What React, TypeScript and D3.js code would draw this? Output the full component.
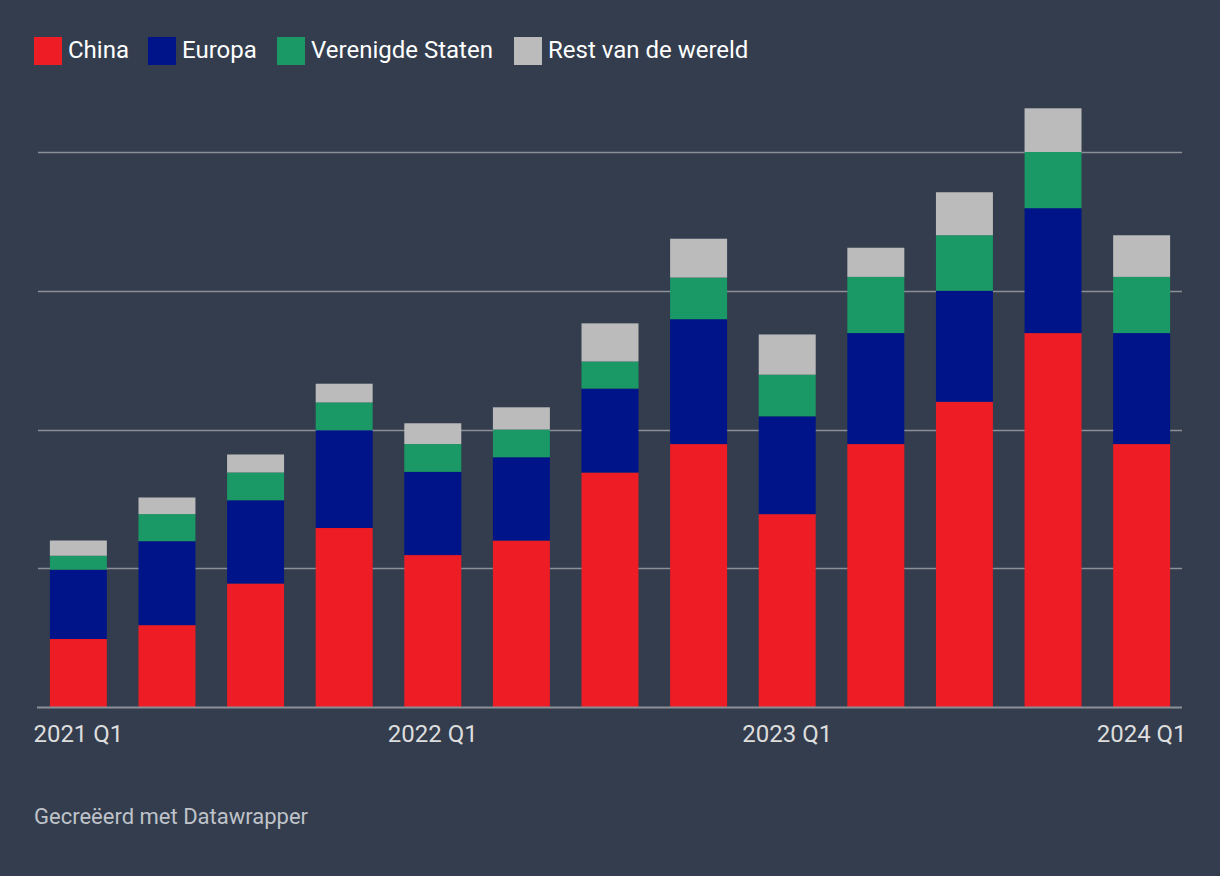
import React from "react";
import * as d3 from "d3";

const periods = ["2021 Q1","2021 Q2","2021 Q3","2021 Q4","2022 Q1","2022 Q2","2022 Q3","2022 Q4","2023 Q1","2023 Q2","2023 Q3","2023 Q4","2024 Q1"];
const tickLabels = ["2021 Q1","2022 Q1","2023 Q1","2024 Q1"];
const seriesNames = ["China","Europa","Verenigde Staten","Rest van de wereld"];
const china = [4.9, 5.9, 8.9, 12.9, 10.95, 12.0, 16.9, 18.95, 13.9, 18.95, 22.0, 26.95, 18.95];
const europa = [5.0, 6.05, 6.0, 7.05, 6.0, 6.0, 6.05, 9.0, 7.05, 8.0, 8.0, 9.0, 8.0];
const vs = [1.0, 1.95, 2.0, 2.0, 2.0, 2.0, 1.95, 3.0, 3.0, 4.05, 4.0, 4.05, 4.05];
const rest = [1.1, 1.2, 1.3, 1.35, 1.5, 1.6, 2.75, 2.8, 2.9, 2.1, 3.1, 3.15, 3.0];
const gridValues = [10, 20, 30, 40];
const colors = ["#ee1c25", "#00148a", "#1a9966", "#bbbbbb"];

const W = 1220, H = 876;
const FONT = "Roboto, 'Noto Sans', sans-serif";

export default function App() {
  const rows = periods.map((p, i) => ({ period: p, China: china[i], Europa: europa[i], "Verenigde Staten": vs[i], "Rest van de wereld": rest[i] }));
  const stacked = d3.stack<any>().keys(seriesNames)(rows);
  const x = d3.scaleBand<string>().domain(periods).range([38, 1182]).paddingInner(0.357).paddingOuter(0.134);
  const y = d3.scaleLinear().domain([0, 40]).range([707, 152]);
  const legendX = [34, 148, 277, 514];

  return (
    <svg width={W} height={H} style={{ position: "absolute", left: 0, top: 0, display: "block" }} fontFamily={FONT}>
      <rect x={0} y={0} width={W} height={H} fill="#333d4d" />
      {seriesNames.map((s, i) => (
        <g key={s}>
          <rect x={legendX[i]} y={37} width={28} height={28} fill={colors[i]} />
          <text x={legendX[i] + 34} y={58} fontSize={24} fill="#ffffff">{s}</text>
        </g>
      ))}
      {gridValues.map(v => (
        <line key={v} x1={38} x2={1182} y1={Math.round(y(v)) + 0.5} y2={Math.round(y(v)) + 0.5} stroke="#8a8f98" strokeWidth={1.5} />
      ))}
      {stacked.map((layer, si) => (
        <g key={layer.key} fill={colors[si]}>
          {layer.map((d, i) => (
            <rect key={i} x={x(periods[i])} y={y(d[1])} width={x.bandwidth()} height={y(d[0]) - y(d[1])} />
          ))}
        </g>
      ))}
      <line x1={37} x2={1182} y1={707.5} y2={707.5} stroke="#8a8f98" strokeWidth={2} />
      {tickLabels.map(t => (
        <text key={t} x={(x(t) as number) + x.bandwidth() / 2} y={742} textAnchor="middle" fontSize={24} fill="#dddddd">{t}</text>
      ))}
      <text x={34} y={824} fontSize={22} fill="#bfc3c9">Gecreëerd met Datawrapper</text>
    </svg>
  );
}
